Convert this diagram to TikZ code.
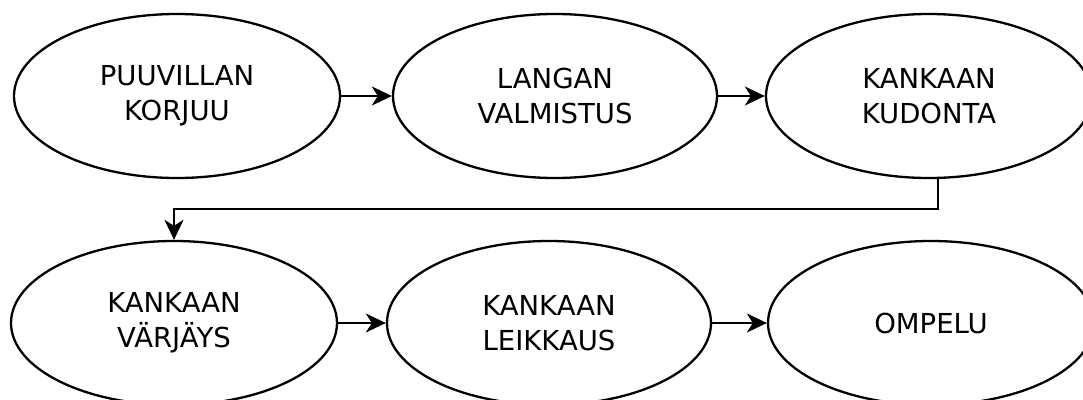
\documentclass[tikz,border=0pt]{standalone}
\usepackage{fontspec}
\setmainfont{DejaVu Sans}
\usetikzlibrary{shapes.geometric,arrows.meta}

\tikzset{
  stage/.style={ellipse, draw=black, line width=2.3pt, fill=white,
    minimum width=326pt, minimum height=164pt, inner sep=0pt,
    align=center, font=\fontsize{27.5}{35}\selectfont},
  flow/.style={line width=2.3pt, -{Stealth[length=20pt,width=19pt,inset=6pt]}}
}

\begin{document}
\begin{tikzpicture}[x=1pt,y=1pt]
  \useasboundingbox (0,0) rectangle (1083,-399);
  \clip (0,0) rectangle (1083,-399);

  % top row
  \node[stage] (e1) at (177,-96) {PUUVILLAN\\KORJUU};
  \node[stage, minimum width=324pt] (e2) at (555,-96) {LANGAN\\VALMISTUS};
  \node[stage] (e3) at (929,-96) {KANKAAN\\KUDONTA};

  % bottom row
  \node[stage] (e4) at (174,-323) {KANKAAN\\VÄRJÄYS};
  \node[stage, minimum width=324pt] (e5) at (549,-323) {KANKAAN\\LEIKKAUS};
  \node[stage] (e6) at (931,-323) {OMPELU};

  % connectors
  \draw[flow] (e1) -- (e2);
  \draw[flow] (e2) -- (e3);
  \draw[flow] ([xshift=9pt]e3.south) -- ++(0,-30) -| (e4.north);
  \draw[flow] (e4) -- (e5);
  \draw[flow] (e5) -- (e6);
\end{tikzpicture}
\end{document}
